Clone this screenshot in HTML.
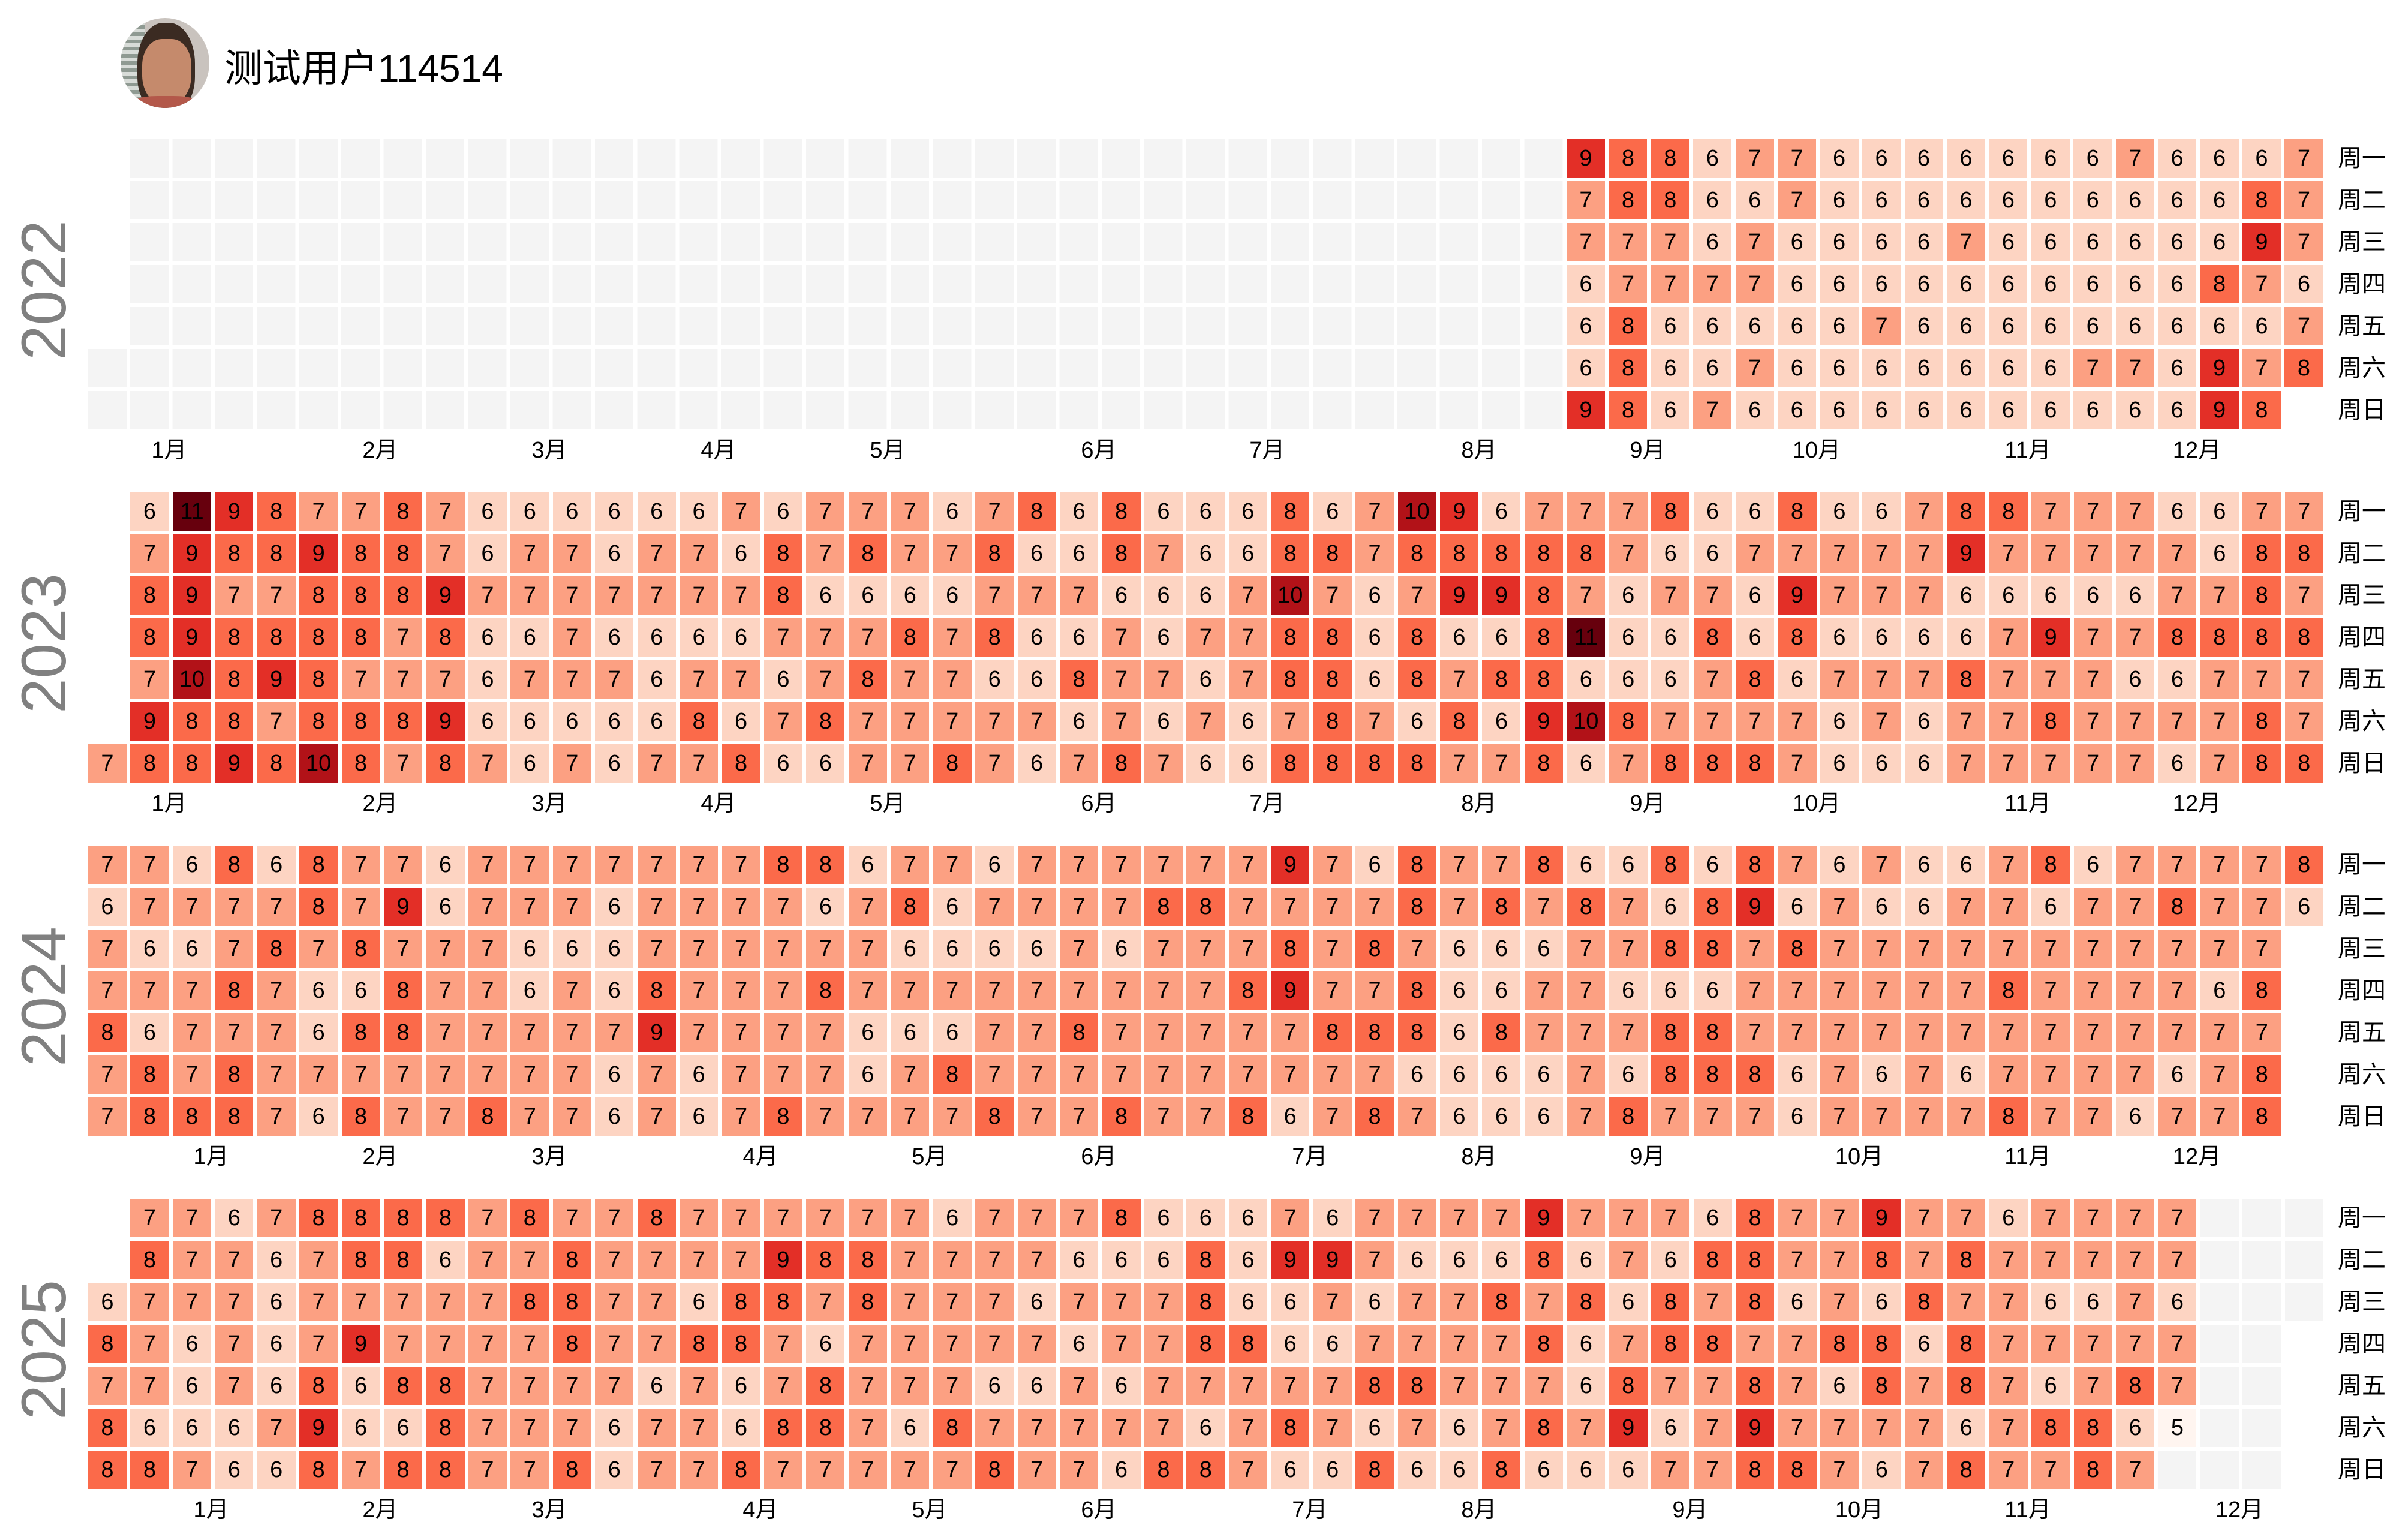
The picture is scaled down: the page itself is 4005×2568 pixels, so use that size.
<!DOCTYPE html>
<html><head><meta charset="utf-8">
<style>
html,body{margin:0;padding:0;background:#fff}
body{width:4005px;height:2568px;position:relative;overflow:hidden;font-family:"Liberation Sans","Noto Sans CJK SC",sans-serif}
.y{position:absolute;left:147px;display:grid;grid-template-columns:repeat(53,64px);grid-auto-rows:64px;column-gap:6.44px;row-gap:6px}
.y i{font-style:normal;display:flex;align-items:center;justify-content:center;font-size:38px;color:#000;line-height:1}
.v5{background:#fff5f0}.v6{background:#fdd4c2}.v7{background:#fca082}.v8{background:#fb6a4a}.v9{background:#e32f27}.v10{background:#b21218}.v11{background:#67000d}.g{background:#f4f4f4}
.yr{position:absolute;left:-46px;width:240px;height:100px;line-height:100px;text-align:center;font-size:105px;color:#808080;transform:rotate(-90deg)}
.m{position:absolute;height:50px}
.m span{position:absolute;width:100px;text-align:center;font-size:38px;line-height:50px;color:#000}
.wd{position:absolute;left:3898px;font-size:40px;line-height:50px;color:#000}
</style></head><body>

<div style="position:absolute;left:201px;top:30px;width:148px;height:150px;border-radius:50%;overflow:hidden;background:#c9c3be">
<div style="position:absolute;left:0;top:0;width:40px;height:150px;background:repeating-linear-gradient(180deg,#8f9a92 0 6px,#d8dcd8 6px 12px)"></div>
<div style="position:absolute;left:28px;top:8px;width:96px;height:150px;border-radius:45% 45% 40% 40%;background:#3b2b22"></div>
<div style="position:absolute;left:36px;top:35px;width:82px;height:110px;border-radius:40% 40% 45% 45%;background:#c58a6c"></div>
<div style="position:absolute;left:10px;top:130px;width:130px;height:40px;background:#b3584a;border-radius:40%"></div>
</div>
<div style="position:absolute;left:374px;top:80px;font-size:64px;line-height:68px;color:#000;font-family:'Liberation Sans','Noto Sans CJK SC',sans-serif">测试用户114514</div>

<!-- 2022 -->
<div class="yr" style="top:434px">2022</div>
<div style="position:absolute;left:217px;top:232px;width:2388.5px;height:484px;background:repeating-linear-gradient(90deg,transparent 0 64px,#fff 64px 70.44px),repeating-linear-gradient(180deg,transparent 0 64px,#fff 64px 70px),#f4f4f4"></div>
<div class="g" style="position:absolute;left:147px;top:582px;width:64px;height:64px"></div>
<div class="g" style="position:absolute;left:147px;top:652px;width:64px;height:64px"></div>
<div class="y" style="left:2612px;top:232px;grid-template-columns:repeat(18,64px)">
<i class=v9>9</i><i class=v8>8</i><i class=v8>8</i><i class=v6>6</i><i class=v7>7</i><i class=v7>7</i><i class=v6>6</i><i class=v6>6</i><i class=v6>6</i><i class=v6>6</i><i class=v6>6</i><i class=v6>6</i><i class=v6>6</i><i class=v7>7</i><i class=v6>6</i><i class=v6>6</i><i class=v6>6</i><i class=v7>7</i>
<i class=v7>7</i><i class=v8>8</i><i class=v8>8</i><i class=v6>6</i><i class=v6>6</i><i class=v7>7</i><i class=v6>6</i><i class=v6>6</i><i class=v6>6</i><i class=v6>6</i><i class=v6>6</i><i class=v6>6</i><i class=v6>6</i><i class=v6>6</i><i class=v6>6</i><i class=v6>6</i><i class=v8>8</i><i class=v7>7</i>
<i class=v7>7</i><i class=v7>7</i><i class=v7>7</i><i class=v6>6</i><i class=v7>7</i><i class=v6>6</i><i class=v6>6</i><i class=v6>6</i><i class=v6>6</i><i class=v7>7</i><i class=v6>6</i><i class=v6>6</i><i class=v6>6</i><i class=v6>6</i><i class=v6>6</i><i class=v6>6</i><i class=v9>9</i><i class=v7>7</i>
<i class=v6>6</i><i class=v7>7</i><i class=v7>7</i><i class=v7>7</i><i class=v7>7</i><i class=v6>6</i><i class=v6>6</i><i class=v6>6</i><i class=v6>6</i><i class=v6>6</i><i class=v6>6</i><i class=v6>6</i><i class=v6>6</i><i class=v6>6</i><i class=v6>6</i><i class=v8>8</i><i class=v7>7</i><i class=v6>6</i>
<i class=v6>6</i><i class=v8>8</i><i class=v6>6</i><i class=v6>6</i><i class=v6>6</i><i class=v6>6</i><i class=v6>6</i><i class=v7>7</i><i class=v6>6</i><i class=v6>6</i><i class=v6>6</i><i class=v6>6</i><i class=v6>6</i><i class=v6>6</i><i class=v6>6</i><i class=v6>6</i><i class=v6>6</i><i class=v7>7</i>
<i class=v6>6</i><i class=v8>8</i><i class=v6>6</i><i class=v6>6</i><i class=v7>7</i><i class=v6>6</i><i class=v6>6</i><i class=v6>6</i><i class=v6>6</i><i class=v6>6</i><i class=v6>6</i><i class=v6>6</i><i class=v7>7</i><i class=v7>7</i><i class=v6>6</i><i class=v9>9</i><i class=v7>7</i><i class=v8>8</i>
<i class=v9>9</i><i class=v8>8</i><i class=v6>6</i><i class=v7>7</i><i class=v6>6</i><i class=v6>6</i><i class=v6>6</i><i class=v6>6</i><i class=v6>6</i><i class=v6>6</i><i class=v6>6</i><i class=v6>6</i><i class=v6>6</i><i class=v6>6</i><i class=v6>6</i><i class=v9>9</i><i class=v8>8</i>
</div>
<div class="m" style="top:726px"><span style="left:232px">1月</span><span style="left:584px">2月</span><span style="left:866px">3月</span><span style="left:1148px">4月</span><span style="left:1430px">5月</span><span style="left:1782px">6月</span><span style="left:2063px">7月</span><span style="left:2416px">8月</span><span style="left:2697px">9月</span><span style="left:2979px">10月</span><span style="left:3331px">11月</span><span style="left:3613px">12月</span></div>
<div class="wd" style="top:239px">周一</div><div class="wd" style="top:309px">周二</div><div class="wd" style="top:379px">周三</div><div class="wd" style="top:449px">周四</div><div class="wd" style="top:519px">周五</div><div class="wd" style="top:589px">周六</div><div class="wd" style="top:659px">周日</div>

<!-- 2023 -->
<div class="yr" style="top:1023px">2023</div>
<div class="y" style="top:821px">
<i></i><i class=v6>6</i><i class=v11>11</i><i class=v9>9</i><i class=v8>8</i><i class=v7>7</i><i class=v7>7</i><i class=v8>8</i><i class=v7>7</i><i class=v6>6</i><i class=v6>6</i><i class=v6>6</i><i class=v6>6</i><i class=v6>6</i><i class=v6>6</i><i class=v7>7</i><i class=v6>6</i><i class=v7>7</i><i class=v7>7</i><i class=v7>7</i><i class=v6>6</i><i class=v7>7</i><i class=v8>8</i><i class=v6>6</i><i class=v8>8</i><i class=v6>6</i><i class=v6>6</i><i class=v6>6</i><i class=v8>8</i><i class=v6>6</i><i class=v7>7</i><i class=v10>10</i><i class=v9>9</i><i class=v6>6</i><i class=v7>7</i><i class=v7>7</i><i class=v7>7</i><i class=v8>8</i><i class=v6>6</i><i class=v6>6</i><i class=v8>8</i><i class=v6>6</i><i class=v6>6</i><i class=v7>7</i><i class=v8>8</i><i class=v8>8</i><i class=v7>7</i><i class=v7>7</i><i class=v7>7</i><i class=v6>6</i><i class=v6>6</i><i class=v7>7</i><i class=v7>7</i>
<i></i><i class=v7>7</i><i class=v9>9</i><i class=v8>8</i><i class=v8>8</i><i class=v9>9</i><i class=v8>8</i><i class=v8>8</i><i class=v7>7</i><i class=v6>6</i><i class=v7>7</i><i class=v7>7</i><i class=v6>6</i><i class=v7>7</i><i class=v7>7</i><i class=v6>6</i><i class=v8>8</i><i class=v7>7</i><i class=v8>8</i><i class=v7>7</i><i class=v7>7</i><i class=v8>8</i><i class=v6>6</i><i class=v6>6</i><i class=v8>8</i><i class=v7>7</i><i class=v6>6</i><i class=v6>6</i><i class=v8>8</i><i class=v8>8</i><i class=v7>7</i><i class=v8>8</i><i class=v8>8</i><i class=v8>8</i><i class=v8>8</i><i class=v8>8</i><i class=v7>7</i><i class=v6>6</i><i class=v6>6</i><i class=v7>7</i><i class=v7>7</i><i class=v7>7</i><i class=v7>7</i><i class=v7>7</i><i class=v9>9</i><i class=v7>7</i><i class=v7>7</i><i class=v7>7</i><i class=v7>7</i><i class=v7>7</i><i class=v6>6</i><i class=v8>8</i><i class=v8>8</i>
<i></i><i class=v8>8</i><i class=v9>9</i><i class=v7>7</i><i class=v7>7</i><i class=v8>8</i><i class=v8>8</i><i class=v8>8</i><i class=v9>9</i><i class=v7>7</i><i class=v7>7</i><i class=v7>7</i><i class=v7>7</i><i class=v7>7</i><i class=v7>7</i><i class=v7>7</i><i class=v8>8</i><i class=v6>6</i><i class=v6>6</i><i class=v6>6</i><i class=v6>6</i><i class=v7>7</i><i class=v7>7</i><i class=v7>7</i><i class=v6>6</i><i class=v6>6</i><i class=v6>6</i><i class=v7>7</i><i class=v10>10</i><i class=v7>7</i><i class=v6>6</i><i class=v7>7</i><i class=v9>9</i><i class=v9>9</i><i class=v8>8</i><i class=v7>7</i><i class=v6>6</i><i class=v7>7</i><i class=v7>7</i><i class=v6>6</i><i class=v9>9</i><i class=v7>7</i><i class=v7>7</i><i class=v7>7</i><i class=v6>6</i><i class=v6>6</i><i class=v6>6</i><i class=v6>6</i><i class=v6>6</i><i class=v7>7</i><i class=v7>7</i><i class=v8>8</i><i class=v7>7</i>
<i></i><i class=v8>8</i><i class=v9>9</i><i class=v8>8</i><i class=v8>8</i><i class=v8>8</i><i class=v8>8</i><i class=v7>7</i><i class=v8>8</i><i class=v6>6</i><i class=v6>6</i><i class=v7>7</i><i class=v6>6</i><i class=v6>6</i><i class=v6>6</i><i class=v6>6</i><i class=v7>7</i><i class=v7>7</i><i class=v7>7</i><i class=v8>8</i><i class=v7>7</i><i class=v8>8</i><i class=v6>6</i><i class=v6>6</i><i class=v7>7</i><i class=v6>6</i><i class=v7>7</i><i class=v7>7</i><i class=v8>8</i><i class=v8>8</i><i class=v6>6</i><i class=v8>8</i><i class=v6>6</i><i class=v6>6</i><i class=v8>8</i><i class=v11>11</i><i class=v6>6</i><i class=v6>6</i><i class=v8>8</i><i class=v6>6</i><i class=v8>8</i><i class=v6>6</i><i class=v6>6</i><i class=v6>6</i><i class=v6>6</i><i class=v7>7</i><i class=v9>9</i><i class=v7>7</i><i class=v7>7</i><i class=v8>8</i><i class=v8>8</i><i class=v8>8</i><i class=v8>8</i>
<i></i><i class=v7>7</i><i class=v10>10</i><i class=v8>8</i><i class=v9>9</i><i class=v8>8</i><i class=v7>7</i><i class=v7>7</i><i class=v7>7</i><i class=v6>6</i><i class=v7>7</i><i class=v7>7</i><i class=v7>7</i><i class=v6>6</i><i class=v7>7</i><i class=v7>7</i><i class=v6>6</i><i class=v7>7</i><i class=v8>8</i><i class=v7>7</i><i class=v7>7</i><i class=v6>6</i><i class=v6>6</i><i class=v8>8</i><i class=v7>7</i><i class=v7>7</i><i class=v6>6</i><i class=v7>7</i><i class=v8>8</i><i class=v8>8</i><i class=v6>6</i><i class=v8>8</i><i class=v7>7</i><i class=v8>8</i><i class=v8>8</i><i class=v6>6</i><i class=v6>6</i><i class=v6>6</i><i class=v7>7</i><i class=v8>8</i><i class=v6>6</i><i class=v7>7</i><i class=v7>7</i><i class=v7>7</i><i class=v8>8</i><i class=v7>7</i><i class=v7>7</i><i class=v7>7</i><i class=v6>6</i><i class=v6>6</i><i class=v7>7</i><i class=v7>7</i><i class=v7>7</i>
<i></i><i class=v9>9</i><i class=v8>8</i><i class=v8>8</i><i class=v7>7</i><i class=v8>8</i><i class=v8>8</i><i class=v8>8</i><i class=v9>9</i><i class=v6>6</i><i class=v6>6</i><i class=v6>6</i><i class=v6>6</i><i class=v6>6</i><i class=v8>8</i><i class=v6>6</i><i class=v7>7</i><i class=v8>8</i><i class=v7>7</i><i class=v7>7</i><i class=v7>7</i><i class=v7>7</i><i class=v7>7</i><i class=v6>6</i><i class=v7>7</i><i class=v6>6</i><i class=v7>7</i><i class=v6>6</i><i class=v7>7</i><i class=v8>8</i><i class=v7>7</i><i class=v6>6</i><i class=v8>8</i><i class=v6>6</i><i class=v9>9</i><i class=v10>10</i><i class=v8>8</i><i class=v7>7</i><i class=v7>7</i><i class=v7>7</i><i class=v7>7</i><i class=v6>6</i><i class=v7>7</i><i class=v6>6</i><i class=v7>7</i><i class=v7>7</i><i class=v8>8</i><i class=v7>7</i><i class=v7>7</i><i class=v7>7</i><i class=v7>7</i><i class=v8>8</i><i class=v7>7</i>
<i class=v7>7</i><i class=v8>8</i><i class=v8>8</i><i class=v9>9</i><i class=v8>8</i><i class=v10>10</i><i class=v8>8</i><i class=v7>7</i><i class=v8>8</i><i class=v7>7</i><i class=v6>6</i><i class=v7>7</i><i class=v6>6</i><i class=v7>7</i><i class=v7>7</i><i class=v8>8</i><i class=v6>6</i><i class=v6>6</i><i class=v7>7</i><i class=v7>7</i><i class=v8>8</i><i class=v7>7</i><i class=v6>6</i><i class=v7>7</i><i class=v8>8</i><i class=v7>7</i><i class=v6>6</i><i class=v6>6</i><i class=v8>8</i><i class=v8>8</i><i class=v8>8</i><i class=v8>8</i><i class=v7>7</i><i class=v7>7</i><i class=v8>8</i><i class=v6>6</i><i class=v7>7</i><i class=v8>8</i><i class=v8>8</i><i class=v8>8</i><i class=v7>7</i><i class=v6>6</i><i class=v6>6</i><i class=v6>6</i><i class=v7>7</i><i class=v7>7</i><i class=v7>7</i><i class=v7>7</i><i class=v7>7</i><i class=v6>6</i><i class=v7>7</i><i class=v8>8</i><i class=v8>8</i>
</div>
<div class="m" style="top:1315px"><span style="left:232px">1月</span><span style="left:584px">2月</span><span style="left:866px">3月</span><span style="left:1148px">4月</span><span style="left:1430px">5月</span><span style="left:1782px">6月</span><span style="left:2063px">7月</span><span style="left:2416px">8月</span><span style="left:2697px">9月</span><span style="left:2979px">10月</span><span style="left:3331px">11月</span><span style="left:3613px">12月</span></div>
<div class="wd" style="top:828px">周一</div><div class="wd" style="top:898px">周二</div><div class="wd" style="top:968px">周三</div><div class="wd" style="top:1038px">周四</div><div class="wd" style="top:1108px">周五</div><div class="wd" style="top:1178px">周六</div><div class="wd" style="top:1248px">周日</div>

<!-- 2024 -->
<div class="yr" style="top:1612px">2024</div>
<div class="y" style="top:1410px">
<i class=v7>7</i><i class=v7>7</i><i class=v6>6</i><i class=v8>8</i><i class=v6>6</i><i class=v8>8</i><i class=v7>7</i><i class=v7>7</i><i class=v6>6</i><i class=v7>7</i><i class=v7>7</i><i class=v7>7</i><i class=v7>7</i><i class=v7>7</i><i class=v7>7</i><i class=v7>7</i><i class=v8>8</i><i class=v8>8</i><i class=v6>6</i><i class=v7>7</i><i class=v7>7</i><i class=v6>6</i><i class=v7>7</i><i class=v7>7</i><i class=v7>7</i><i class=v7>7</i><i class=v7>7</i><i class=v7>7</i><i class=v9>9</i><i class=v7>7</i><i class=v6>6</i><i class=v8>8</i><i class=v7>7</i><i class=v7>7</i><i class=v8>8</i><i class=v6>6</i><i class=v6>6</i><i class=v8>8</i><i class=v6>6</i><i class=v8>8</i><i class=v7>7</i><i class=v6>6</i><i class=v7>7</i><i class=v6>6</i><i class=v6>6</i><i class=v7>7</i><i class=v8>8</i><i class=v6>6</i><i class=v7>7</i><i class=v7>7</i><i class=v7>7</i><i class=v7>7</i><i class=v8>8</i>
<i class=v6>6</i><i class=v7>7</i><i class=v7>7</i><i class=v7>7</i><i class=v7>7</i><i class=v8>8</i><i class=v7>7</i><i class=v9>9</i><i class=v6>6</i><i class=v7>7</i><i class=v7>7</i><i class=v7>7</i><i class=v6>6</i><i class=v7>7</i><i class=v7>7</i><i class=v7>7</i><i class=v7>7</i><i class=v6>6</i><i class=v7>7</i><i class=v8>8</i><i class=v6>6</i><i class=v7>7</i><i class=v7>7</i><i class=v7>7</i><i class=v7>7</i><i class=v8>8</i><i class=v8>8</i><i class=v7>7</i><i class=v7>7</i><i class=v7>7</i><i class=v7>7</i><i class=v8>8</i><i class=v7>7</i><i class=v8>8</i><i class=v7>7</i><i class=v8>8</i><i class=v7>7</i><i class=v6>6</i><i class=v8>8</i><i class=v9>9</i><i class=v6>6</i><i class=v7>7</i><i class=v6>6</i><i class=v6>6</i><i class=v7>7</i><i class=v7>7</i><i class=v6>6</i><i class=v7>7</i><i class=v7>7</i><i class=v8>8</i><i class=v7>7</i><i class=v7>7</i><i class=v6>6</i>
<i class=v7>7</i><i class=v6>6</i><i class=v6>6</i><i class=v7>7</i><i class=v8>8</i><i class=v7>7</i><i class=v8>8</i><i class=v7>7</i><i class=v7>7</i><i class=v7>7</i><i class=v6>6</i><i class=v6>6</i><i class=v6>6</i><i class=v7>7</i><i class=v7>7</i><i class=v7>7</i><i class=v7>7</i><i class=v7>7</i><i class=v7>7</i><i class=v6>6</i><i class=v6>6</i><i class=v6>6</i><i class=v6>6</i><i class=v7>7</i><i class=v6>6</i><i class=v7>7</i><i class=v7>7</i><i class=v7>7</i><i class=v8>8</i><i class=v7>7</i><i class=v8>8</i><i class=v7>7</i><i class=v6>6</i><i class=v6>6</i><i class=v6>6</i><i class=v7>7</i><i class=v7>7</i><i class=v8>8</i><i class=v8>8</i><i class=v7>7</i><i class=v8>8</i><i class=v7>7</i><i class=v7>7</i><i class=v7>7</i><i class=v7>7</i><i class=v7>7</i><i class=v7>7</i><i class=v7>7</i><i class=v7>7</i><i class=v7>7</i><i class=v7>7</i><i class=v7>7</i><i></i>
<i class=v7>7</i><i class=v7>7</i><i class=v7>7</i><i class=v8>8</i><i class=v7>7</i><i class=v6>6</i><i class=v6>6</i><i class=v8>8</i><i class=v7>7</i><i class=v7>7</i><i class=v6>6</i><i class=v7>7</i><i class=v6>6</i><i class=v8>8</i><i class=v7>7</i><i class=v7>7</i><i class=v7>7</i><i class=v8>8</i><i class=v7>7</i><i class=v7>7</i><i class=v7>7</i><i class=v7>7</i><i class=v7>7</i><i class=v7>7</i><i class=v7>7</i><i class=v7>7</i><i class=v7>7</i><i class=v8>8</i><i class=v9>9</i><i class=v7>7</i><i class=v7>7</i><i class=v8>8</i><i class=v6>6</i><i class=v6>6</i><i class=v7>7</i><i class=v7>7</i><i class=v6>6</i><i class=v6>6</i><i class=v6>6</i><i class=v7>7</i><i class=v7>7</i><i class=v7>7</i><i class=v7>7</i><i class=v7>7</i><i class=v7>7</i><i class=v8>8</i><i class=v7>7</i><i class=v7>7</i><i class=v7>7</i><i class=v7>7</i><i class=v6>6</i><i class=v8>8</i><i></i>
<i class=v8>8</i><i class=v6>6</i><i class=v7>7</i><i class=v7>7</i><i class=v7>7</i><i class=v6>6</i><i class=v8>8</i><i class=v8>8</i><i class=v7>7</i><i class=v7>7</i><i class=v7>7</i><i class=v7>7</i><i class=v7>7</i><i class=v9>9</i><i class=v7>7</i><i class=v7>7</i><i class=v7>7</i><i class=v7>7</i><i class=v6>6</i><i class=v6>6</i><i class=v6>6</i><i class=v7>7</i><i class=v7>7</i><i class=v8>8</i><i class=v7>7</i><i class=v7>7</i><i class=v7>7</i><i class=v7>7</i><i class=v7>7</i><i class=v8>8</i><i class=v8>8</i><i class=v8>8</i><i class=v6>6</i><i class=v8>8</i><i class=v7>7</i><i class=v7>7</i><i class=v7>7</i><i class=v8>8</i><i class=v8>8</i><i class=v7>7</i><i class=v7>7</i><i class=v7>7</i><i class=v7>7</i><i class=v7>7</i><i class=v7>7</i><i class=v7>7</i><i class=v7>7</i><i class=v7>7</i><i class=v7>7</i><i class=v7>7</i><i class=v7>7</i><i class=v7>7</i><i></i>
<i class=v7>7</i><i class=v8>8</i><i class=v7>7</i><i class=v8>8</i><i class=v7>7</i><i class=v7>7</i><i class=v7>7</i><i class=v7>7</i><i class=v7>7</i><i class=v7>7</i><i class=v7>7</i><i class=v7>7</i><i class=v6>6</i><i class=v7>7</i><i class=v6>6</i><i class=v7>7</i><i class=v7>7</i><i class=v7>7</i><i class=v6>6</i><i class=v7>7</i><i class=v8>8</i><i class=v7>7</i><i class=v7>7</i><i class=v7>7</i><i class=v7>7</i><i class=v7>7</i><i class=v7>7</i><i class=v7>7</i><i class=v7>7</i><i class=v7>7</i><i class=v7>7</i><i class=v6>6</i><i class=v6>6</i><i class=v6>6</i><i class=v6>6</i><i class=v7>7</i><i class=v6>6</i><i class=v8>8</i><i class=v8>8</i><i class=v8>8</i><i class=v6>6</i><i class=v7>7</i><i class=v6>6</i><i class=v7>7</i><i class=v6>6</i><i class=v7>7</i><i class=v7>7</i><i class=v7>7</i><i class=v7>7</i><i class=v6>6</i><i class=v7>7</i><i class=v8>8</i><i></i>
<i class=v7>7</i><i class=v8>8</i><i class=v8>8</i><i class=v8>8</i><i class=v7>7</i><i class=v6>6</i><i class=v8>8</i><i class=v7>7</i><i class=v7>7</i><i class=v8>8</i><i class=v7>7</i><i class=v7>7</i><i class=v6>6</i><i class=v7>7</i><i class=v6>6</i><i class=v7>7</i><i class=v8>8</i><i class=v7>7</i><i class=v7>7</i><i class=v7>7</i><i class=v7>7</i><i class=v8>8</i><i class=v7>7</i><i class=v7>7</i><i class=v8>8</i><i class=v7>7</i><i class=v7>7</i><i class=v8>8</i><i class=v6>6</i><i class=v7>7</i><i class=v8>8</i><i class=v7>7</i><i class=v6>6</i><i class=v6>6</i><i class=v6>6</i><i class=v7>7</i><i class=v8>8</i><i class=v7>7</i><i class=v7>7</i><i class=v7>7</i><i class=v6>6</i><i class=v7>7</i><i class=v7>7</i><i class=v7>7</i><i class=v7>7</i><i class=v8>8</i><i class=v7>7</i><i class=v7>7</i><i class=v6>6</i><i class=v7>7</i><i class=v7>7</i><i class=v8>8</i><i></i>
</div>
<div class="m" style="top:1904px"><span style="left:302px">1月</span><span style="left:584px">2月</span><span style="left:866px">3月</span><span style="left:1218px">4月</span><span style="left:1500px">5月</span><span style="left:1782px">6月</span><span style="left:2134px">7月</span><span style="left:2416px">8月</span><span style="left:2697px">9月</span><span style="left:3050px">10月</span><span style="left:3331px">11月</span><span style="left:3613px">12月</span></div>
<div class="wd" style="top:1417px">周一</div><div class="wd" style="top:1487px">周二</div><div class="wd" style="top:1557px">周三</div><div class="wd" style="top:1627px">周四</div><div class="wd" style="top:1697px">周五</div><div class="wd" style="top:1767px">周六</div><div class="wd" style="top:1837px">周日</div>

<!-- 2025 -->
<div class="yr" style="top:2201px">2025</div>
<div class="y" style="top:1999px">
<i></i><i class=v7>7</i><i class=v7>7</i><i class=v6>6</i><i class=v7>7</i><i class=v8>8</i><i class=v8>8</i><i class=v8>8</i><i class=v8>8</i><i class=v7>7</i><i class=v8>8</i><i class=v7>7</i><i class=v7>7</i><i class=v8>8</i><i class=v7>7</i><i class=v7>7</i><i class=v7>7</i><i class=v7>7</i><i class=v7>7</i><i class=v7>7</i><i class=v6>6</i><i class=v7>7</i><i class=v7>7</i><i class=v7>7</i><i class=v8>8</i><i class=v6>6</i><i class=v6>6</i><i class=v6>6</i><i class=v7>7</i><i class=v6>6</i><i class=v7>7</i><i class=v7>7</i><i class=v7>7</i><i class=v7>7</i><i class=v9>9</i><i class=v7>7</i><i class=v7>7</i><i class=v7>7</i><i class=v6>6</i><i class=v8>8</i><i class=v7>7</i><i class=v7>7</i><i class=v9>9</i><i class=v7>7</i><i class=v7>7</i><i class=v6>6</i><i class=v7>7</i><i class=v7>7</i><i class=v7>7</i><i class=v7>7</i><i class=g></i><i class=g></i><i class=g></i>
<i></i><i class=v8>8</i><i class=v7>7</i><i class=v7>7</i><i class=v6>6</i><i class=v7>7</i><i class=v8>8</i><i class=v8>8</i><i class=v6>6</i><i class=v7>7</i><i class=v7>7</i><i class=v8>8</i><i class=v7>7</i><i class=v7>7</i><i class=v7>7</i><i class=v7>7</i><i class=v9>9</i><i class=v8>8</i><i class=v8>8</i><i class=v7>7</i><i class=v7>7</i><i class=v7>7</i><i class=v7>7</i><i class=v6>6</i><i class=v6>6</i><i class=v6>6</i><i class=v8>8</i><i class=v6>6</i><i class=v9>9</i><i class=v9>9</i><i class=v7>7</i><i class=v6>6</i><i class=v6>6</i><i class=v6>6</i><i class=v8>8</i><i class=v6>6</i><i class=v7>7</i><i class=v6>6</i><i class=v8>8</i><i class=v8>8</i><i class=v7>7</i><i class=v7>7</i><i class=v8>8</i><i class=v7>7</i><i class=v8>8</i><i class=v7>7</i><i class=v7>7</i><i class=v7>7</i><i class=v7>7</i><i class=v7>7</i><i class=g></i><i class=g></i><i class=g></i>
<i class=v6>6</i><i class=v7>7</i><i class=v7>7</i><i class=v7>7</i><i class=v6>6</i><i class=v7>7</i><i class=v7>7</i><i class=v7>7</i><i class=v7>7</i><i class=v7>7</i><i class=v8>8</i><i class=v8>8</i><i class=v7>7</i><i class=v7>7</i><i class=v6>6</i><i class=v8>8</i><i class=v8>8</i><i class=v7>7</i><i class=v8>8</i><i class=v7>7</i><i class=v7>7</i><i class=v7>7</i><i class=v6>6</i><i class=v7>7</i><i class=v7>7</i><i class=v7>7</i><i class=v8>8</i><i class=v6>6</i><i class=v6>6</i><i class=v7>7</i><i class=v6>6</i><i class=v7>7</i><i class=v7>7</i><i class=v8>8</i><i class=v7>7</i><i class=v8>8</i><i class=v6>6</i><i class=v8>8</i><i class=v7>7</i><i class=v8>8</i><i class=v6>6</i><i class=v7>7</i><i class=v6>6</i><i class=v8>8</i><i class=v7>7</i><i class=v7>7</i><i class=v6>6</i><i class=v6>6</i><i class=v7>7</i><i class=v6>6</i><i class=g></i><i class=g></i><i class=g></i>
<i class=v8>8</i><i class=v7>7</i><i class=v6>6</i><i class=v7>7</i><i class=v6>6</i><i class=v7>7</i><i class=v9>9</i><i class=v7>7</i><i class=v7>7</i><i class=v7>7</i><i class=v7>7</i><i class=v8>8</i><i class=v7>7</i><i class=v7>7</i><i class=v8>8</i><i class=v8>8</i><i class=v7>7</i><i class=v6>6</i><i class=v7>7</i><i class=v7>7</i><i class=v7>7</i><i class=v7>7</i><i class=v7>7</i><i class=v6>6</i><i class=v7>7</i><i class=v7>7</i><i class=v8>8</i><i class=v8>8</i><i class=v6>6</i><i class=v6>6</i><i class=v7>7</i><i class=v7>7</i><i class=v7>7</i><i class=v7>7</i><i class=v8>8</i><i class=v6>6</i><i class=v7>7</i><i class=v8>8</i><i class=v8>8</i><i class=v7>7</i><i class=v7>7</i><i class=v8>8</i><i class=v8>8</i><i class=v6>6</i><i class=v8>8</i><i class=v7>7</i><i class=v7>7</i><i class=v7>7</i><i class=v7>7</i><i class=v7>7</i><i class=g></i><i class=g></i><i></i>
<i class=v7>7</i><i class=v7>7</i><i class=v6>6</i><i class=v7>7</i><i class=v6>6</i><i class=v8>8</i><i class=v6>6</i><i class=v8>8</i><i class=v8>8</i><i class=v7>7</i><i class=v7>7</i><i class=v7>7</i><i class=v7>7</i><i class=v6>6</i><i class=v7>7</i><i class=v6>6</i><i class=v7>7</i><i class=v8>8</i><i class=v7>7</i><i class=v7>7</i><i class=v7>7</i><i class=v6>6</i><i class=v6>6</i><i class=v7>7</i><i class=v6>6</i><i class=v7>7</i><i class=v7>7</i><i class=v7>7</i><i class=v7>7</i><i class=v7>7</i><i class=v8>8</i><i class=v8>8</i><i class=v7>7</i><i class=v7>7</i><i class=v7>7</i><i class=v6>6</i><i class=v8>8</i><i class=v7>7</i><i class=v7>7</i><i class=v8>8</i><i class=v7>7</i><i class=v6>6</i><i class=v8>8</i><i class=v7>7</i><i class=v8>8</i><i class=v7>7</i><i class=v6>6</i><i class=v7>7</i><i class=v8>8</i><i class=v7>7</i><i class=g></i><i class=g></i><i></i>
<i class=v8>8</i><i class=v6>6</i><i class=v6>6</i><i class=v6>6</i><i class=v7>7</i><i class=v9>9</i><i class=v6>6</i><i class=v6>6</i><i class=v8>8</i><i class=v7>7</i><i class=v7>7</i><i class=v7>7</i><i class=v6>6</i><i class=v7>7</i><i class=v7>7</i><i class=v6>6</i><i class=v8>8</i><i class=v8>8</i><i class=v7>7</i><i class=v6>6</i><i class=v8>8</i><i class=v7>7</i><i class=v7>7</i><i class=v7>7</i><i class=v7>7</i><i class=v7>7</i><i class=v6>6</i><i class=v7>7</i><i class=v8>8</i><i class=v7>7</i><i class=v6>6</i><i class=v7>7</i><i class=v6>6</i><i class=v7>7</i><i class=v8>8</i><i class=v7>7</i><i class=v9>9</i><i class=v6>6</i><i class=v7>7</i><i class=v9>9</i><i class=v7>7</i><i class=v7>7</i><i class=v7>7</i><i class=v7>7</i><i class=v6>6</i><i class=v7>7</i><i class=v8>8</i><i class=v8>8</i><i class=v6>6</i><i class=v5>5</i><i class=g></i><i class=g></i><i></i>
<i class=v8>8</i><i class=v8>8</i><i class=v7>7</i><i class=v6>6</i><i class=v6>6</i><i class=v8>8</i><i class=v7>7</i><i class=v8>8</i><i class=v8>8</i><i class=v7>7</i><i class=v7>7</i><i class=v8>8</i><i class=v6>6</i><i class=v7>7</i><i class=v7>7</i><i class=v8>8</i><i class=v7>7</i><i class=v7>7</i><i class=v7>7</i><i class=v7>7</i><i class=v7>7</i><i class=v8>8</i><i class=v7>7</i><i class=v7>7</i><i class=v6>6</i><i class=v8>8</i><i class=v8>8</i><i class=v7>7</i><i class=v6>6</i><i class=v6>6</i><i class=v8>8</i><i class=v6>6</i><i class=v6>6</i><i class=v8>8</i><i class=v6>6</i><i class=v6>6</i><i class=v6>6</i><i class=v7>7</i><i class=v7>7</i><i class=v8>8</i><i class=v8>8</i><i class=v7>7</i><i class=v6>6</i><i class=v7>7</i><i class=v8>8</i><i class=v7>7</i><i class=v7>7</i><i class=v8>8</i><i class=v7>7</i><i class=g></i><i class=g></i><i class=g></i><i></i>
</div>
<div class="m" style="top:2493px"><span style="left:302px">1月</span><span style="left:584px">2月</span><span style="left:866px">3月</span><span style="left:1218px">4月</span><span style="left:1500px">5月</span><span style="left:1782px">6月</span><span style="left:2134px">7月</span><span style="left:2416px">8月</span><span style="left:2768px">9月</span><span style="left:3050px">10月</span><span style="left:3331px">11月</span><span style="left:3684px">12月</span></div>
<div class="wd" style="top:2006px">周一</div><div class="wd" style="top:2076px">周二</div><div class="wd" style="top:2146px">周三</div><div class="wd" style="top:2216px">周四</div><div class="wd" style="top:2286px">周五</div><div class="wd" style="top:2356px">周六</div><div class="wd" style="top:2426px">周日</div>

</body></html>
